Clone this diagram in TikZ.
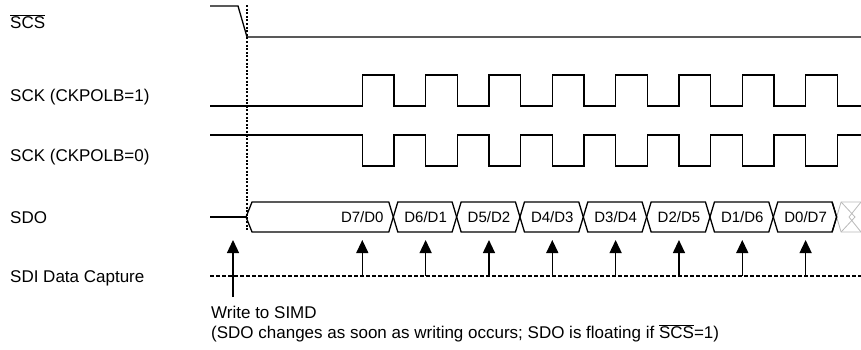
\documentclass[tikz,border=0pt]{standalone}
\usepackage{fontspec}
\setmainfont{Liberation Sans}
\usetikzlibrary{arrows.meta}
\begin{document}
\begin{tikzpicture}[x=1pt,y=-1pt,
  wave/.style={line width=1.3pt, line join=miter, black},
  lbl/.style={anchor=base west, inner sep=0pt, font=\fontsize{17}{20}\selectfont},
  buslbl/.style={anchor=center, inner sep=0pt, font=\fontsize{15}{18}\selectfont},
  caparrow/.style={line width=1.3pt, -{Triangle[width=12pt,length=13pt]}},
  dotline/.style={line width=1.3pt, dash pattern=on 2pt off 1.6pt},
  dashline/.style={line width=1.2pt, dash pattern=on 4pt off 2pt},
  hatch/.style={gray!55, line width=0.8pt}]
\useasboundingbox (0,0) rectangle (861,349);
\def\bt{202}\def\bb{232}\def\bm{217}
% labels
\node[lbl] (lscs) at (10,28) {$\overline{\hbox{SCS}}$};
\node[lbl] (lsck1) at (10,101) {SCK (CKPOLB=1)};
\node[lbl] (lsck0) at (10,161) {SCK (CKPOLB=0)};
\node[lbl] (lsdo) at (10,223) {SDO};
\node[lbl] (lsdi) at (10,282) {SDI Data Capture};
\node[lbl] (lw1) at (211,318) {Write to SIMD};
\node[lbl] (lw2) at (211,338) {(SDO changes as soon as writing occurs; SDO is floating if $\overline{\hbox{SCS}}$=1)};
% SCS
\draw[wave] (210,6) -- (238,6) -- (247,37) -- (861,37);
% dotted marker
\coordinate (mt) at (247,5);
\coordinate (mb) at (247,231);
\draw[dotline] (mt) -- (mb);
% SCK CKPOLB=1
\draw[wave] (210,106) foreach \k in {0,...,7} { -- ({362.3+63.33*\k},106) -- ++(0,-31) -- ++(31.67,0) -- ++(0,31) } -- (861,106);
% SCK CKPOLB=0
\draw[wave] (210,135) foreach \k in {0,...,7} { -- ({362.3+63.33*\k},135) -- ++(0,31) -- ++(31.67,0) -- ++(0,-31) } -- (861,135);
% SDO
\draw[wave] (210,\bm) -- (246,\bm);
\draw[wave] (246,\bm) -- (252,\bt) -- (388.8,\bt) -- (393.3,\bm) -- (388.8,\bb) -- (252,\bb) -- cycle;
\foreach \k in {0,...,6} {
  \pgfmathsetmacro{\L}{393.3+63.33*\k}
  \pgfmathsetmacro{\R}{393.3+63.33*(\k+1)}
  \draw[wave] (\L,\bm) -- ({\L+4.5},\bt) -- ({\R-4.5},\bt) -- (\R,\bm) -- ({\R-4.5},\bb) -- ({\L+4.5},\bb) -- cycle;
}
% floating part
\draw[hatch] (836.6,\bm) -- (841.1,\bt) -- (861,\bt);
\draw[hatch] (836.6,\bm) -- (841.1,\bb) -- (861,\bb);
\draw[hatch] (841.1,\bt) -- (855,\bm) -- (841.1,\bb);
\draw[hatch] (861,\bt) -- (849,\bm) -- (861,\bb);
\draw[wave] (832.1,\bb) -- (836.6,\bm) -- (832.1,\bt);
% bus labels
\foreach \k/\t in {0/D7\slash D0,1/D6\slash D1,2/D5\slash D2,3/D4\slash D3,4/D3\slash D4,5/D2\slash D5,6/D1\slash D6,7/D0\slash D7} {
  \node[buslbl] (d\k) at ({362.3+63.33*\k},\bm) {\t};
}
% SDI dashed line
\coordinate (sl) at (210,276);
\coordinate (sr) at (861,276);
\draw[dashline] (sl) -- (sr);
% capture arrows
\foreach \k in {0,...,7} {
  \coordinate (cb\k) at ({362.3+63.33*\k},276);
  \coordinate (ct\k) at ({362.3+63.33*\k},240);
  \draw[caparrow] (cb\k) -- (ct\k);
}
% write arrow
\coordinate (wb) at (233,297);
\coordinate (wt) at (233,240);
\draw[caparrow] (wb) -- (wt);
\end{tikzpicture}
\end{document}
